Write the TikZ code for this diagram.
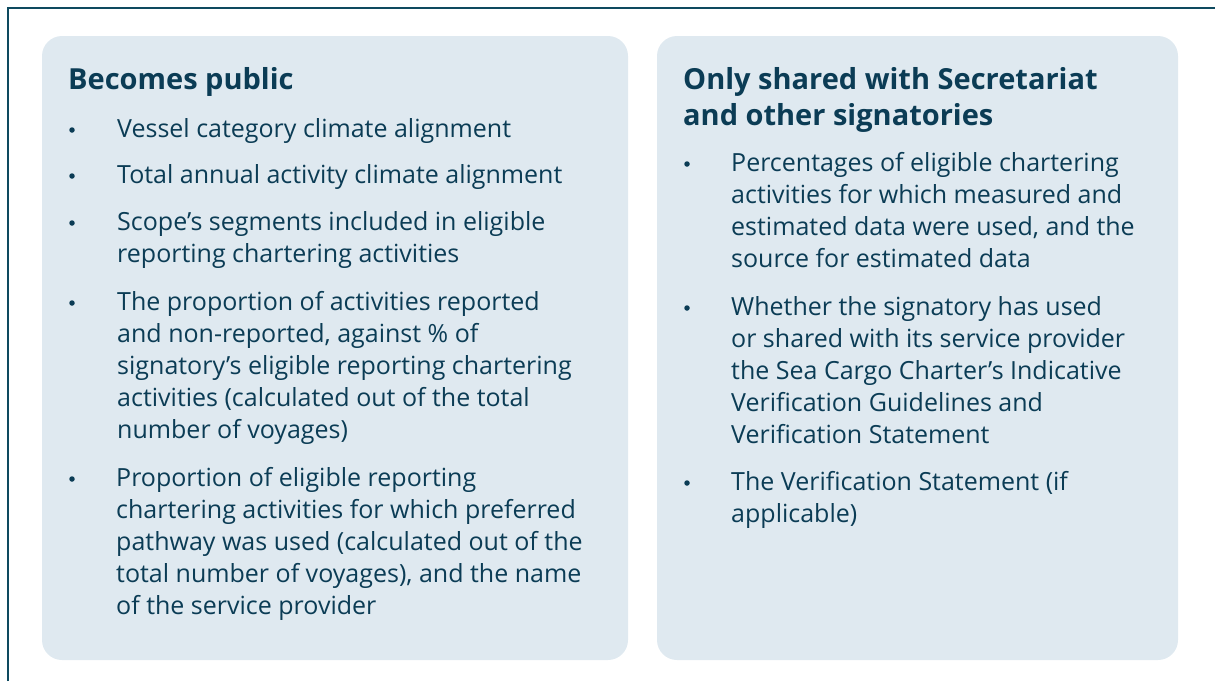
\documentclass[tikz,border=0pt]{standalone}
\usepackage{fontspec}
\setmainfont{Open Sans}
\definecolor{ink}{HTML}{0B3C55}
\definecolor{panel}{HTML}{DFE9F0}
\definecolor{frame}{HTML}{0E4A5F}
\begin{document}
\begin{tikzpicture}[x=1pt,y=-1pt,
	box/.style = {fill=panel, rounded corners=20pt},
	head/.style = {anchor=base west, inner sep=0pt, align=left, text=ink, font=\fontsize{29}{36}\selectfont\bfseries},
	item/.style = {anchor=base west, inner sep=0pt, align=left, text=ink, font=\fontsize{25}{32}\selectfont},
	dot/.style = {circle, fill=ink, inner sep=0pt, minimum size=5.5pt}]
	\useasboundingbox (0,0) rectangle (1215,681);
	% frame lines
	\draw[frame, line width=2.2pt] (8,681) -- (8,8) -- (1215,8);
	% panels
	\fill[box] (42,36) rectangle (628,660);
	\fill[box] (657,36) rectangle (1178,660);
	% left panel (each node sits on the baseline of its last line)
	\node[head] (pubhead) at (68,89) {Becomes public};
	\node[item] (p1) at (117,137) {Vessel category climate alignment};
	\node[item] (p2) at (117,183) {Total annual activity climate alignment};
	\node[item] (p3) at (117,262) {Scope’s segments included in eligible\\reporting chartering activities};
	\node[item] (p4) at (117,438) {The proportion of activities reported\\and non-reported, against \% of\\signatory’s eligible reporting chartering\\activities (calculated out of the total\\number of voyages)};
	\node[item] (p5) at (116,614) {Proportion of eligible reporting\\chartering activities for which preferred\\pathway was used (calculated out of the\\total number of voyages), and the name\\of the service provider};
	\foreach \y in {137,183,230,310,486}
		\node[dot] at (72,\y-7) {};
	% right panel
	\node[head] (shhead) at (683,125) {Only shared with Secretariat\\and other signatories};
	\node[item] (s1) at (731,267) {Percentages of eligible chartering\\activities for which measured and\\estimated data were used, and the\\source for estimated data};
	\node[item] (s2) at (731,443) {Whether the signatory has used\\or shared with its service provider\\the Sea Cargo Charter’s Indicative\\Verification Guidelines and\\Verification Statement};
	\node[item] (s3) at (731,522) {The Verification Statement (if\\applicable)};
	\foreach \y in {171,315,490}
		\node[dot] at (687,\y-7) {};
\end{tikzpicture}
\end{document}
